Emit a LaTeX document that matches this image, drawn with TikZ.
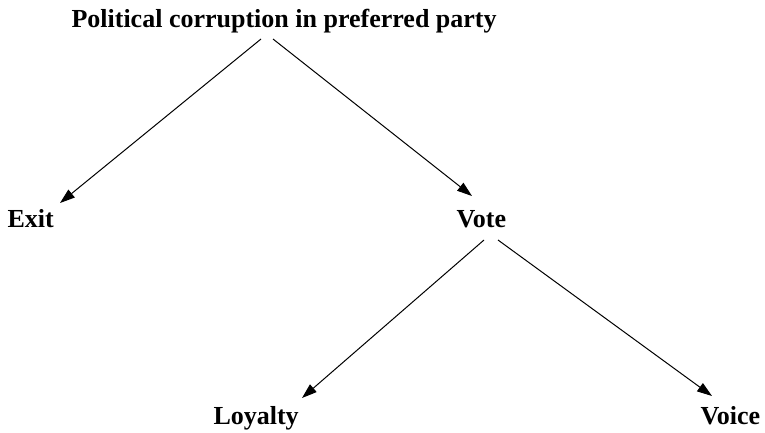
\documentclass[tikz,border=0pt]{standalone}
\usepackage{fontspec}
\setmainfont{Liberation Serif}
\usetikzlibrary{arrows.meta}

\begin{document}
\begin{tikzpicture}[
  x=1pt, y=1pt,
  line width=1pt,
  >={Triangle[length=15pt, width=10pt]},
  font=\fontsize{26}{30}\selectfont\bfseries,
  label/.style={inner sep=0pt, anchor=base west}
  ]
  \useasboundingbox (0,0) rectangle (765,-432);

  % --- top ---
  \node [label] (corrupt) at (71,-27) {Political corruption in preferred party};

  % --- 2nd row ---
  \node [label] (exit) at (7,-227) {Exit};
  \node [label] (vote) at (456,-227) {Vote};

  % --- 3rd row ---
  \node [label] (loyal) at (213,-424) {Loyalty};
  \node [label] (voice) at (700,-424) {Voice};

  % arrows
  \draw [->] ([shift={(190,-12)}]corrupt.base west) -- ([shift={(53,24)}]exit.base west);
  \draw [->] ([shift={(202,-12)}]corrupt.base west) -- ([shift={(16,31)}]vote.base west);
  \draw [->] ([shift={(28,-13)}]vote.base west) -- ([shift={(89,26)}]loyal.base west);
  \draw [->] ([shift={(42,-13)}]vote.base west) -- ([shift={(12,28)}]voice.base west);

\end{tikzpicture}
\end{document}
